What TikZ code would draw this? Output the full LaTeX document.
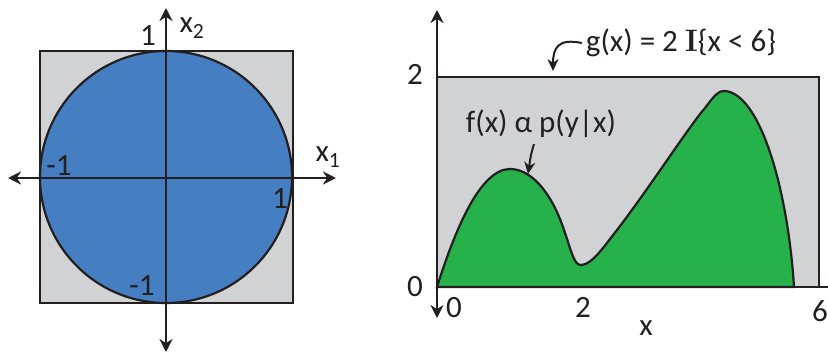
\documentclass[tikz,border=0pt]{standalone}
\usepackage{fontspec}
\setsansfont{Carlito}
\usetikzlibrary{arrows.meta, positioning, calc}
\definecolor{DiskBlue}{HTML}{457EC1}
\definecolor{BoxGrey}{HTML}{D1D2D4}
\definecolor{MassGreen}{HTML}{26B14B}
\definecolor{Ink}{HTML}{231F20}

\tikzset{
  lbl/.style={font=\sffamily\fontsize{31}{36}\selectfont, inner sep=0pt, text=Ink},
  axis/.style={line width=2.2pt, color=Ink, {Stealth[length=13pt,width=13pt]}-{Stealth[length=13pt,width=13pt]}},
  outline/.style={line width=2.2pt, color=Ink},
  pointer/.style={line width=2pt, color=Ink, -{Stealth[length=12pt,width=11pt]}}
}

\begin{document}
\begin{tikzpicture}[x=1pt, y=-1pt]
  \useasboundingbox (0,0) rectangle (828,354);
  % left panel: disk inside the square
  \draw[outline, fill=BoxGrey] (40,51) rectangle (293,303);
  \draw[outline, fill=DiskBlue] (166,177) circle (126pt);
  \coordinate (hL) at (8,178);
  \coordinate (hR) at (336,178);
  \coordinate (vT) at (166,8);
  \coordinate (vB) at (166,352);
  \draw[axis] (hL) -- (hR);
  \draw[axis] (vB) -- (vT);
  \node[lbl] (xTwo) at (192,28) {x\textsubscript{2}};
  \node[lbl] (xOne) at (328,157) {x\textsubscript{1}};
  \node[lbl] (topOne) at (148,36) {1};
  \node[lbl] (leftM) at (59,166) {-1};
  \node[lbl] (rightOne) at (280,199) {1};
  \node[lbl] (botM) at (142,286) {-1};

  % right panel: envelope g and target f
  \draw[outline, fill=BoxGrey] (437,287) rectangle (819,77);
  \draw[outline, fill=MassGreen] (437,287)
    .. controls (455,230) and (480,169) .. (510,169)
    .. controls (530,169) and (550,190) .. (563,227)
    .. controls (572,253) and (574,265) .. (581,265)
    .. controls (592,265) and (605,245) .. (617,230)
    .. controls (650,187) and (690,125) .. (705,108)
    .. controls (712,99) and (717,91) .. (724,91)
    .. controls (760,92) and (788,190) .. (794,287) -- cycle;
  \coordinate (yB) at (437,318);
  \coordinate (yT) at (437,10);
  \coordinate (xO) at (437,287);
  \coordinate (xE) at (828,287);
  \draw[axis] (yB) -- (yT);
  \draw[outline] (xO) -- (xE);
  \node[lbl] (yTwo) at (415,74) {2};
  \node[lbl] (yZero) at (415,287) {0};
  \node[lbl] (tZero) at (454,308) {0};
  \node[lbl] (tTwo) at (583,307) {2};
  \node[lbl] (tSix) at (820,311) {6};
  \node[lbl] (xName) at (646,328) {x};

  \node[lbl] (gLabel) at (681,43) {g(x) = 2 {\rmfamily\bfseries I}\{x < 6\}};
  \node[lbl] (fLabel) at (541,124) {f(x) α p(y|x)};
  \coordinate (gTip) at (553,71);
  \coordinate (fTip) at (528,174);
  \draw[pointer] ([xshift=-4pt]gLabel.west) .. controls (558,38) and (553,48) .. (gTip);
  \draw[pointer] ([xshift=-7pt,yshift=-6pt]fLabel.south) .. controls (531,154) .. (fTip);
\end{tikzpicture}
\end{document}
